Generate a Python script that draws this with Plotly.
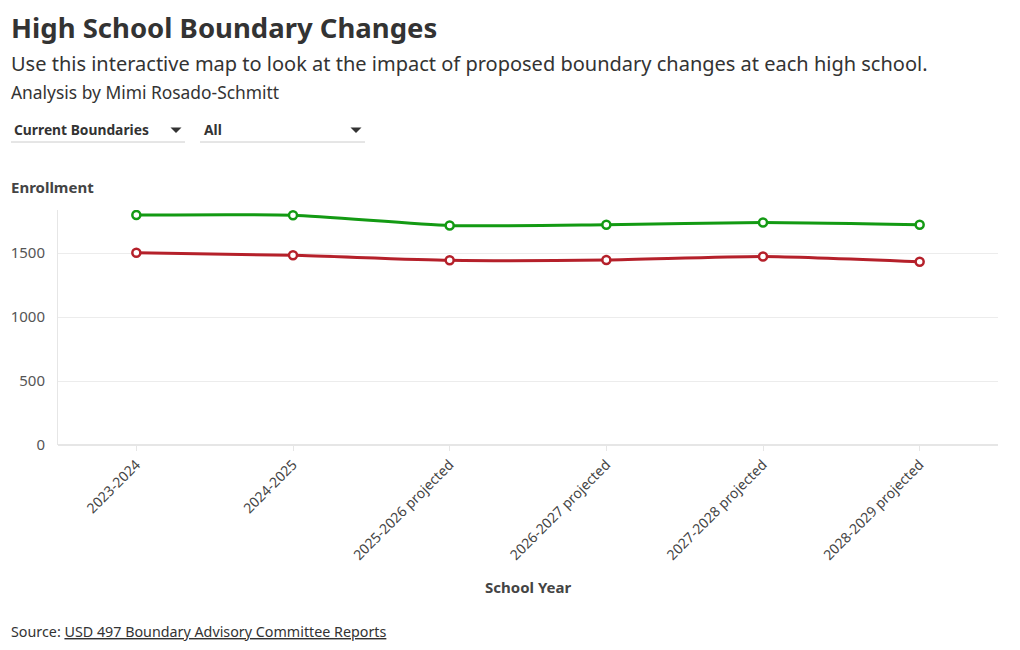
import plotly.graph_objects as go

years = ["2023-2024", "2024-2025", "2025-2026 projected", "2026-2027 projected",
         "2027-2028 projected", "2028-2029 projected"]
series_green = [1797, 1795, 1715, 1721, 1738, 1721]
series_red = [1502, 1482, 1443, 1445, 1473, 1432]
y_ticks = [0, 500, 1000, 1500]

FONT = "Noto Sans"
OFF = 8  # page body margin
W, H = 1004, 634
L, R, T, B = 50, 14, 202, 197
PW, PH = W - L - R, H - T - B

def px(x):
    return (x - OFF - L) / PW

def py(y):
    return (H - B - (y - OFF)) / PH

fig = go.Figure()
fig.add_trace(go.Scatter(
    x=years, y=series_green, mode="lines+markers", name="Green",
    line=dict(color="#139a13", width=3, shape="spline", smoothing=0.6),
    marker=dict(size=8, color="white", line=dict(color="#139a13", width=2.5)),
))
fig.add_trace(go.Scatter(
    x=years, y=series_red, mode="lines+markers", name="Red",
    line=dict(color="#b5202a", width=3, shape="spline", smoothing=0.6),
    marker=dict(size=8, color="white", line=dict(color="#b5202a", width=2.5)),
))

ann = []
def add(text, x, y, size, color="#333", bold=False, xanchor="left", yanchor="middle"):
    ann.append(dict(text=f"<b>{text}</b>" if bold else text, x=px(x), y=py(y),
                    xref="paper", yref="paper", showarrow=False, xanchor=xanchor,
                    yanchor=yanchor, font=dict(family=FONT, size=size, color=color)))

add("High School Boundary Changes", 9, 27, 27.5, "#333", bold=True)
add("Use this interactive map to look at the impact of proposed boundary changes at each high school.", 9, 63, 20, "#333")
add("Analysis by Mimi Rosado-Schmitt", 9, 92, 17.4, "#333")
add("Current Boundaries", 12, 130, 13.8, "#333", bold=True)
add("All", 202, 130, 13.8, "#333", bold=True)
add("Enrollment", 9, 187, 15, "#444", bold=True)
add("School Year", 528, 587, 15, "#444", bold=True, xanchor="center")
add("Source: <u>USD 497 Boundary Advisory Committee Reports</u>", 9, 631, 14.3, "#333")

def tri(cx, cy):
    return dict(type="path", xref="paper", yref="paper",
                path=f"M {px(cx-5.5)} {py(cy-2.5)} L {px(cx+5.5)} {py(cy-2.5)} L {px(cx)} {py(cy+3)} Z",
                fillcolor="#333", line=dict(width=0))

shapes = [
    dict(type="line", xref="paper", yref="paper", x0=px(11), x1=px(185), y0=py(142), y1=py(142),
         line=dict(color="#cccccc", width=1)),
    dict(type="line", xref="paper", yref="paper", x0=px(200), x1=px(365), y0=py(142), y1=py(142),
         line=dict(color="#cccccc", width=1)),
    tri(176, 130),
    tri(356, 130),
]

fig.update_layout(
    width=W, height=H,
    margin=dict(l=L, r=R, t=T, b=B),
    paper_bgcolor="white", plot_bgcolor="white",
    showlegend=False,
    annotations=ann, shapes=shapes,
    font=dict(family=FONT, color="#444"),
    xaxis=dict(type="category", range=[-0.5, 5.5], tickangle=-45, automargin=False,
               tickfont=dict(family=FONT, size=14, color="#444"),
               showgrid=False, zeroline=False, showline=False,
               ticks="outside", ticklen=5, tickcolor="#e6e6e6"),
    yaxis=dict(range=[0, 1836], tickvals=y_ticks, automargin=False,
               tickfont=dict(family=FONT, size=15, color="#555"),
               showgrid=True, gridcolor="#ececec", gridwidth=1,
               zeroline=True, zerolinecolor="#e6e6e6",
               showline=True, linecolor="#e6e6e6", ticks="", ticklabelstandoff=9),
)

fig.write_html("out.html")
